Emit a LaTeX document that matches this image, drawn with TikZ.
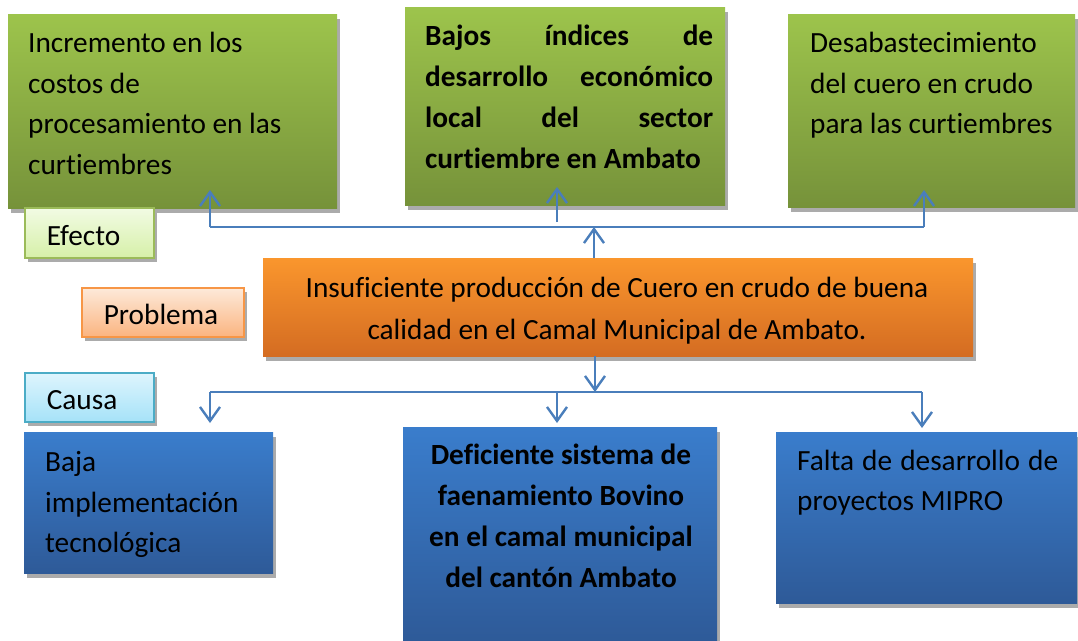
\documentclass[tikz,border=0pt]{standalone}
\usepackage{fontspec}
\setmainfont[Ligatures=NoCommon]{Carlito}
\usetikzlibrary{arrows.meta}
\definecolor{gtop}{RGB}{157,196,76}
\definecolor{gbot}{RGB}{118,146,58}
\definecolor{otop}{RGB}{250,150,45}
\definecolor{obot}{RGB}{212,108,34}
\definecolor{btop}{RGB}{58,125,204}
\definecolor{bbot}{RGB}{46,90,152}
\definecolor{lineblue}{RGB}{74,126,187}
\definecolor{efdraw}{RGB}{155,187,89}
\definecolor{eftop}{RGB}{242,251,228}
\definecolor{efbot}{RGB}{214,240,168}
\definecolor{pbdraw}{RGB}{247,150,70}
\definecolor{pbtop}{RGB}{253,234,218}
\definecolor{pbbot}{RGB}{251,180,128}
\definecolor{cadraw}{RGB}{75,172,198}
\definecolor{catop}{RGB}{222,245,253}
\definecolor{cabot}{RGB}{166,226,248}
\begin{document}
\begin{tikzpicture}[x=1pt,y=-1pt,
  box/.style={anchor=north west, inner sep=0pt,
    preaction={fill=black!33, transform canvas={xshift=3pt,yshift=-4.5pt}}},
  greenbox/.style={box, top color=gtop, bottom color=gbot},
  orangebox/.style={box, top color=otop, bottom color=obot},
  bluebox/.style={box, top color=btop, bottom color=bbot},
  tagbox/.style={box, line width=1.6pt, inner xsep=22pt, align=left,
    text height=27pt, text depth=2pt,
    font=\fontsize{29.3}{34}\selectfont},
  txt/.style={anchor=north west, inner sep=0pt, align=left,
    font=\fontsize{29.3}{40.5}\selectfont},
  txtb/.style={inner sep=0pt, font=\fontsize{29.3}{41}\selectfont\bfseries},
  conn/.style={draw=lineblue, line width=2.4pt,
    -{Straight Barb[length=14pt,width=20pt]}},
  hline/.style={draw=lineblue, line width=1.8pt},
]
\useasboundingbox (0,0) rectangle (1078,640);

% effect boxes
\node[greenbox, minimum width=329pt, minimum height=194pt] (g1) at (8,14) {};
\node[greenbox, minimum width=320pt, minimum height=198pt] (g2) at (405,7) {};
\node[greenbox, minimum width=287pt, minimum height=193pt] (g3) at (788,14) {};
% problem box
\node[orangebox, minimum width=710pt, minimum height=98pt] (pr) at (263,258) {};
% cause boxes
\node[bluebox, minimum width=249pt, minimum height=141pt] (b1) at (24,432) {};
\node[bluebox, minimum width=314pt, minimum height=215pt] (b2) at (403,427) {};
\node[bluebox, minimum width=301pt, minimum height=171pt] (b3) at (776,432) {};

% tag boxes
\node[tagbox, draw=efdraw, top color=eftop, bottom color=efbot,
  minimum width=129pt, minimum height=50pt, text width=85pt] (ef) at (24,207) {Efecto};
\node[tagbox, draw=pbdraw, top color=pbtop, bottom color=pbbot,
  minimum width=162pt, minimum height=49pt, text width=118pt] (pb) at (81,287) {Problema};
\node[tagbox, draw=cadraw, top color=catop, bottom color=cabot,
  minimum width=129pt, minimum height=49pt, text width=85pt] (ca) at (24,372) {Causa};

% texts
\node[txt] (tg1) at (28,24) {\strut Incremento en los\\costos de\\procesamiento en las\\curtiembres};
\node[txtb, anchor=north west, align=left] (tg2) at (425,17)
  {\strut\makebox[288pt][s]{Bajos índices de}\\\makebox[288pt][s]{desarrollo económico}\\\makebox[288pt][s]{local del sector}\\curtiembre en Ambato};
\node[txt] (tg3) at (810,24) {\strut Desabastecimiento\\del cuero en crudo\\para las curtiembres};
\node[txt, anchor=north, align=center, font=\fontsize{29.3}{42}\selectfont] (tpr) at (617,268)
  {\strut Insuficiente producción de Cuero en crudo de buena\\calidad en el Camal Municipal de Ambato.};
\node[txt] (tb1) at (45,443) {\strut Baja\\implementación\\tecnológica};
\node[txtb, anchor=north, align=center] (tb2) at (561,436)
  {\strut Deficiente sistema de\\faenamiento Bovino\\en el camal municipal\\del cantón Ambato};
\node[txt, font=\fontsize{29.3}{40}\selectfont] (tb3) at (797,442)
  {\strut\makebox[261pt][s]{Falta de desarrollo de}\\proyectos MIPRO};

% connectors: effects
\coordinate (tl) at (210,227);
\coordinate (tr) at (924,227);
\coordinate (tmid) at (594,227);
\coordinate (tm2) at (557,222);
\coordinate (a1) at (210,190);
\coordinate (a2) at (557,187);
\coordinate (a3) at (924,190);
\draw[hline] (tl) -- (tr);
\draw[conn] (tl) -- (a1);
\draw[conn] (tm2) -- (a2);
\draw[conn] (tr) -- (a3);
\draw[conn] (pr.north -| tmid) -- (tmid);

% connectors: causes
\coordinate (bl) at (210,392);
\coordinate (br) at (922,392);
\coordinate (bmid) at (595,392);
\coordinate (bm2) at (557,392);
\coordinate (c1) at (210,423);
\coordinate (c2) at (557,423);
\coordinate (c3) at (922,428);
\draw[hline] (bl) -- (br);
\draw[conn] (pr.south -| bmid) -- (bmid);
\draw[conn] (bl) -- (c1);
\draw[conn] (bm2) -- (c2);
\draw[conn] (br) -- (c3);
\end{tikzpicture}
\end{document}
